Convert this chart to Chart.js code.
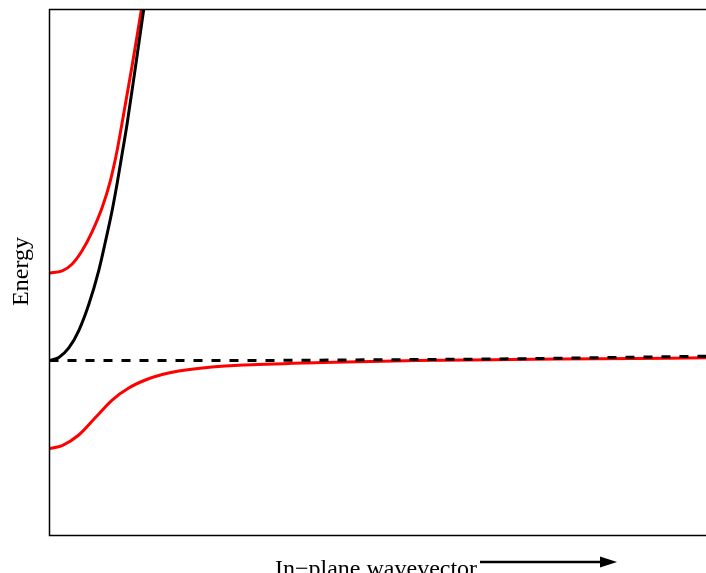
<!DOCTYPE html>
<html>
<head>
<meta charset="utf-8">
<script src="https://cdn.jsdelivr.net/npm/chart.js@4"></script>
<style>
  body { margin: 0; background: #fff; }
</style>
</head>
<body>
<canvas id="chart" width="706" height="573"></canvas>
<script>
// wavevector (arb. units) and energies
const kPhoton = [0, 0.142, 0.294, 0.446, 0.598, 0.750, 0.852, 0.954, 1.030, 1.107, 1.183, 1.317, 1.435, 1.492];
const ePhoton = [3.327, 3.384, 3.565, 3.897, 4.392, 5.038, 5.589, 6.179, 6.692, 7.262, 7.833, 8.973, 10.0, 10.49];

const kExciton = [0, 2.755, 4.886, 7.017, 10];
const eExciton = [3.327, 3.327, 3.340, 3.359, 3.409];

const kUpper = [0, 0.193, 0.346, 0.498, 0.650, 0.802, 0.928, 1.030, 1.107, 1.259, 1.400, 1.461];
const eUpper = [4.990, 5.029, 5.162, 5.418, 5.779, 6.236, 6.749, 7.319, 7.852, 8.935, 10.0, 10.46];

const kLower = [0, 0.193, 0.446, 0.700, 0.954, 1.207, 1.461, 1.715, 1.968, 2.476, 2.983, 4.170, 5.601, 7.017, 8.387, 10];
const eLower = [1.654, 1.711, 1.911, 2.243, 2.576, 2.804, 2.956, 3.061, 3.127, 3.203, 3.241, 3.289, 3.327, 3.346, 3.359, 3.378];

const xTitle = "In\u2212plane wavevector";
const yTitle = "Energy";

function pts(ks, es) {
  return ks.map((k, i) => ({ x: k, y: es[i] }));
}

// frame, axis titles and the arrow
const decorations = {
  id: "decorations",
  afterDraw(chart) {
    const ctx = chart.ctx;
    const a = chart.chartArea;
    ctx.save();
    ctx.strokeStyle = "#000";
    ctx.lineWidth = 1.5;
    ctx.beginPath();
    ctx.moveTo(a.right + 2, a.top);
    ctx.lineTo(a.left, a.top);
    ctx.lineTo(a.left, a.bottom);
    ctx.lineTo(a.right + 2, a.bottom);
    ctx.stroke();

    ctx.fillStyle = "#000";
    ctx.font = "24px 'Liberation Serif', 'Times New Roman', serif";
    ctx.textBaseline = "alphabetic";
    ctx.textAlign = "left";
    ctx.fillText(xTitle, 275, 576);

    // arrow
    ctx.lineWidth = 2.5;
    ctx.beginPath();
    ctx.moveTo(480, 562);
    ctx.lineTo(602, 562);
    ctx.stroke();
    ctx.beginPath();
    ctx.moveTo(617, 562);
    ctx.lineTo(600, 556.5);
    ctx.lineTo(600, 567.5);
    ctx.closePath();
    ctx.fill();

    ctx.translate(27.5, 271.5);
    ctx.rotate(-Math.PI / 2);
    ctx.textAlign = "center";
    ctx.fillText(yTitle, 0, 0);
    ctx.restore();
  }
};

new Chart(document.getElementById("chart"), {
  type: "line",
  data: {
    datasets: [
      {
        label: "photon",
        data: pts(kPhoton, ePhoton),
        borderColor: "#000",
        borderWidth: 3,
        cubicInterpolationMode: "monotone"
      },
      {
        label: "exciton",
        data: pts(kExciton, eExciton),
        borderColor: "#000",
        borderWidth: 3,
        borderDash: [9, 9],
        cubicInterpolationMode: "monotone"
      },
      {
        label: "upper polariton",
        data: pts(kUpper, eUpper),
        borderColor: "rgb(255,0,0)",
        borderWidth: 3,
        cubicInterpolationMode: "monotone"
      },
      {
        label: "lower polariton",
        data: pts(kLower, eLower),
        borderColor: "rgb(255,0,0)",
        borderWidth: 3,
        cubicInterpolationMode: "monotone"
      }
    ]
  },
  options: {
    responsive: false,
    animation: false,
    events: [],
    elements: { point: { radius: 0 } },
    layout: { padding: { left: 49.5, top: 9.5, right: 0, bottom: 37.5 } },
    scales: {
      x: { type: "linear", min: 0, max: 10, display: false },
      y: { type: "linear", min: 0, max: 10, display: false }
    },
    plugins: {
      legend: { display: false },
      tooltip: { enabled: false }
    }
  },
  plugins: [decorations]
});
</script>
</body>
</html>
